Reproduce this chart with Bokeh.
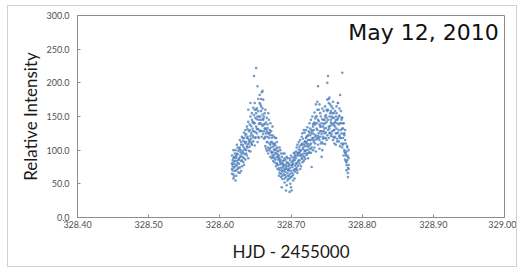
from bokeh.plotting import figure
from bokeh.models import Range1d, FixedTicker, NumeralTickFormatter, Label, ColumnDataSource
from bokeh.embed import file_html
from bokeh.resources import INLINE

# Time stamps (HJD - 2455000)
hjd = [
    328.617, 328.618, 328.619, 328.620, 328.621, 328.622, 328.623, 328.624, 328.625, 328.626,
    328.627, 328.628, 328.629, 328.630, 328.631, 328.632, 328.633, 328.634, 328.635, 328.636,
    328.637, 328.638, 328.639, 328.640, 328.641, 328.642, 328.643, 328.644, 328.645, 328.646,
    328.647, 328.648, 328.649, 328.650, 328.651, 328.652, 328.653, 328.654, 328.655, 328.656,
    328.657, 328.658, 328.659, 328.660, 328.661, 328.662, 328.663, 328.664, 328.665, 328.666,
    328.667, 328.668, 328.669, 328.670, 328.671, 328.672, 328.673, 328.674, 328.675, 328.676,
    328.677, 328.678, 328.679, 328.680, 328.681, 328.682, 328.683, 328.684, 328.685, 328.686,
    328.687, 328.688, 328.689, 328.690, 328.691, 328.692, 328.693, 328.694, 328.695, 328.696,
    328.697, 328.698, 328.699, 328.700, 328.701, 328.702, 328.703, 328.704, 328.705, 328.706,
    328.707, 328.708, 328.709, 328.710, 328.711, 328.712, 328.713, 328.714, 328.715, 328.716,
    328.717, 328.718, 328.719, 328.720, 328.721, 328.722, 328.723, 328.724, 328.725, 328.726,
    328.727, 328.728, 328.729, 328.730, 328.731, 328.732, 328.733, 328.734, 328.735, 328.736,
    328.737, 328.738, 328.739, 328.740, 328.741, 328.742, 328.743, 328.744, 328.745, 328.746,
    328.747, 328.748, 328.749, 328.750, 328.751, 328.752, 328.753, 328.754, 328.755, 328.756,
    328.757, 328.758, 328.759, 328.760, 328.761, 328.762, 328.763, 328.764, 328.765, 328.766,
    328.767, 328.768, 328.769, 328.770, 328.771, 328.772, 328.773, 328.774, 328.775, 328.776,
    328.777, 328.778, 328.779, 328.780, 328.781,
]

# Relative intensity readings (several samples per time step)
intensity_a = [
    72, 85, 64, 90, 79, 88, 70, 95, 81, 99,
    86, 104, 90, 112, 95, 108, 96, 118, 101, 110,
    124, 105, 131, 117, 99, 138, 121, 112, 145, 128,
    119, 152, 140, 127, 160, 146, 131, 158, 139, 170,
    150, 176, 138, 162, 147, 128, 155, 120, 141, 112,
    133, 104, 125, 110, 140, 98, 118, 92, 110, 101,
    88, 107, 95, 80, 99, 78, 92, 70, 86, 65,
    80, 62, 74, 85, 58, 72, 60, 81, 55, 70,
    62, 78, 50, 69, 82, 66, 84, 71, 90, 77,
    88, 74, 96, 83, 101, 85, 99, 92, 108, 87,
    104, 95, 112, 99, 118, 100, 121, 109, 96, 126,
    115, 102, 130, 118, 138, 124, 141, 110, 150, 132,
    160, 121, 143, 115, 135, 128, 112, 146, 120, 139,
    125, 150, 133, 142, 158, 145, 170, 132, 155, 141,
    150, 128, 162, 137, 118, 142, 125, 155, 113, 147,
    130, 151, 118, 140, 125, 132, 108, 124, 98, 115,
    95, 82, 104, 74, 88,
]
intensity_b = [
    65, 80, 58, 74, 69, 76, 62, 84, 72, 67,
    80, 74, 92, 69, 85, 90, 82, 78, 94, 86,
    100, 92, 108, 88, 113, 105, 98, 117, 109, 122,
    113, 128, 107, 119, 135, 125, 112, 131, 118, 140,
    129, 145, 120, 136, 124, 117, 132, 106, 125, 99,
    112, 95, 118, 102, 90, 104, 88, 97, 84, 93,
    82, 96, 76, 90, 72, 86, 73, 66, 79, 60,
    70, 57, 76, 64, 52, 63, 75, 48, 66, 57,
    72, 58, 65, 45, 61, 75, 63, 70, 58, 68,
    72, 81, 66, 77, 85, 80, 92, 76, 88, 82,
    91, 84, 99, 87, 95, 93, 106, 88, 101, 97,
    108, 96, 104, 115, 100, 112, 104, 120, 98, 116,
    118, 108, 125, 102, 120, 110, 124, 100, 117, 128,
    118, 109, 126, 115, 122, 130, 118, 125, 136, 121,
    124, 140, 115, 130, 110, 120, 108, 132, 117, 126,
    113, 122, 106, 118, 110, 104, 118, 92, 100, 86,
    84, 70, 92, 66, 78,
]
intensity_c = [
    92, 76, 100, 83, 95, 100, 90, 108, 94, 86,
    102, 115, 97, 108, 120, 118, 105, 126, 112, 122,
    112, 135, 120, 142, 128, 130, 150, 136, 155, 141,
    163, 140, 170, 148, 155, 162, 150, 176, 145, 182,
    168, 158, 186, 153, 175, 150, 139, 160, 131, 148,
    138, 125, 145, 130, 122, 128, 112, 135, 105, 120,
    110, 118, 102, 112, 94, 98, 88, 104, 82, 95,
    90, 84, 95, 78, 88, 85, 78, 90, 82, 76,
    80, 88, 74, 92, 78, 89, 80, 96, 85, 92,
    98, 92, 108, 95, 112, 105, 115, 100, 120, 110,
    117, 108, 126, 113, 130, 120, 134, 115, 128, 140,
    132, 145, 125, 150, 135, 140, 156, 147, 168, 150,
    172, 145, 160, 138, 155, 150, 140, 162, 135, 158,
    145, 165, 152, 160, 175, 160, 176, 150, 168, 158,
    165, 148, 172, 155, 140, 158, 145, 165, 140, 170,
    150, 162, 140, 158, 145, 148, 132, 140, 122, 130,
    110, 98, 106, 90, 100,
]
intensity_d = [
    80, 70, 88, 61, 84, 55, 92, 78, 104, 74,
    88, 66, 100, 84, 76, 99, 114, 88, 102, 130,
    95, 118, 104, 160, 110, 115, 170, 125, 108, 132,
    142, 210, 160, 118, 222, 132, 195, 120, 150, 128,
    140, 165, 128, 188, 145, 138, 118, 132, 102, 128,
    120, 155, 100, 126, 108, 112, 96, 122, 90, 108,
    100, 86, 118, 80, 104, 90, 62, 84, 100, 74,
    45, 68, 80, 70, 95, 68, 40, 72, 88, 62,
    70, 38, 85, 60, 40, 78, 55, 86, 95, 72,
    80, 104, 70, 92, 96, 96, 72, 108, 94, 125,
    102, 130, 90, 106, 110, 112, 95, 122, 105, 115,
    122, 110, 75, 128, 118, 130, 115, 138, 122, 140,
    130, 195, 118, 168, 128, 135, 90, 128, 110, 145,
    132, 140, 118, 148, 200, 210, 135, 178, 126, 145,
    138, 155, 120, 148, 130, 135, 150, 125, 145, 170,
    138, 120, 182, 130, 148, 215, 140, 110, 125, 96,
    92, 78, 85, 60, 72,
]

x_ticks = [328.40, 328.50, 328.60, 328.70, 328.80, 328.90, 329.00]
y_ticks = [0, 50, 100, 150, 200, 250, 300]
title_text = "May 12, 2010"

xs = []
ys = []
for series in (intensity_a, intensity_b, intensity_c, intensity_d):
    n = min(len(hjd), len(series))
    xs.extend(hjd[:n])
    ys.extend(series[:n])
src = ColumnDataSource(dict(x=xs, y=ys))

p = figure(width=510, height=262, output_backend="svg", toolbar_location=None,
           x_range=Range1d(328.40, 329.00), y_range=Range1d(0, 300),
           min_border_left=69, min_border_right=14, min_border_top=9, min_border_bottom=51)
p.styles = {"border": "1px solid #d0d0d0", "margin-left": "7px", "margin-top": "5px"}
p.background_fill_color = "white"
p.border_fill_color = "white"
p.outline_line_color = "#8c8c8c"
p.xgrid.visible = False
p.ygrid.visible = False

p.scatter("x", "y", source=src, size=2.6, color="#4f81bd", alpha=0.8, line_color=None)

font = "Lato"
for ax in (p.xaxis[0], p.yaxis[0]):
    ax.axis_line_color = "#8c8c8c"
    ax.major_tick_line_color = "#8c8c8c"
    ax.major_tick_in = 3
    ax.major_tick_out = 0
    ax.minor_tick_line_color = None
    ax.major_label_text_font = font
    ax.major_label_text_font_size = "9px"
    ax.major_label_text_color = "#505050"
    ax.axis_label_text_font = font
    ax.axis_label_text_font_size = "17px"
    ax.axis_label_text_font_style = "normal"
    ax.axis_label_text_color = "#1a1a1a"

p.xaxis.ticker = FixedTicker(ticks=x_ticks)
p.yaxis.ticker = FixedTicker(ticks=y_ticks)
p.xaxis.formatter = NumeralTickFormatter(format="0.00")
p.yaxis.formatter = NumeralTickFormatter(format="0.0")
p.xaxis.axis_label = "HJD - 2455000"
p.yaxis.axis_label = "Relative Intensity"
p.xaxis.major_label_standoff = 3
p.yaxis.major_label_standoff = 8
p.xaxis.axis_label_standoff = 10
p.yaxis.axis_label_standoff = 2

lab = Label(x=328.992, y=275, text=title_text, text_align="right", text_baseline="middle",
            text_font="DejaVu Sans", text_font_size="22px", text_color="#111111")
p.add_layout(lab)

open("out.html", "w").write(file_html(p, INLINE))
